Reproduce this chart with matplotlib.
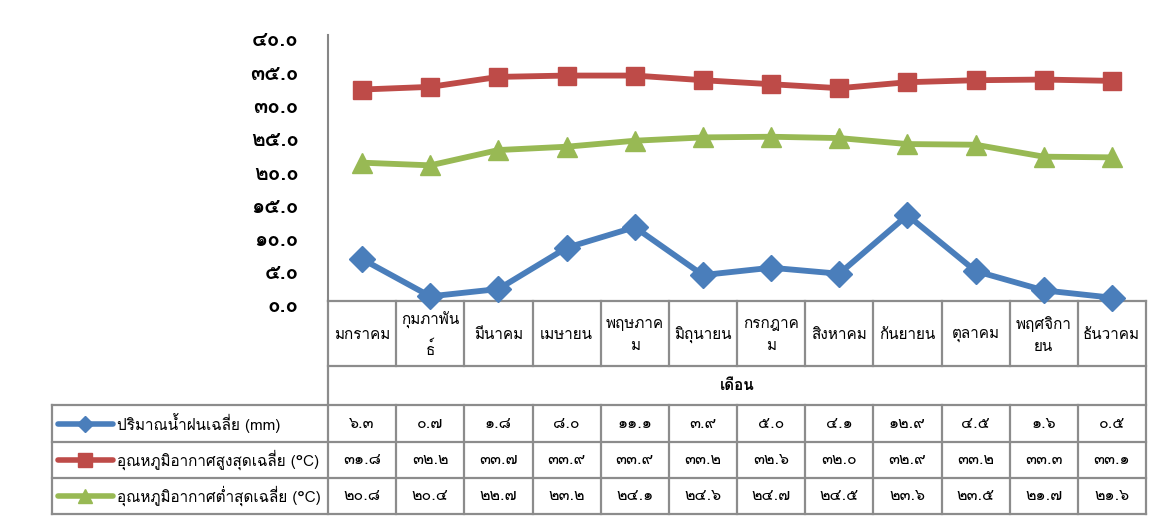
import matplotlib
matplotlib.use("Agg")
import matplotlib.pyplot as plt
from matplotlib import font_manager
from matplotlib.transforms import blended_transform_factory, ScaledTranslation

# Data
months = ["มกราคม", "กุมภาพัน\nธ์", "มีนาคม", "เมษายน", "พฤษภาค\nม", "มิถุนายน",
          "กรกฎาค\nม", "สิงหาคม", "กันยายน", "ตุลาคม", "พฤศจิกา\nยน", "ธันวาคม"]
rain = [6.3, 0.7, 1.8, 8.0, 11.1, 3.9, 5.0, 4.1, 12.9, 4.5, 1.6, 0.5]
tmax = [31.8, 32.2, 33.7, 33.9, 33.9, 33.2, 32.6, 32.0, 32.9, 33.2, 33.3, 33.1]
tmin = [20.8, 20.4, 22.7, 23.2, 24.1, 24.6, 24.7, 24.5, 23.6, 23.5, 21.7, 21.6]
series_names = ["ปริมาณน้ำฝนเฉลี่ย (mm)",
                "อุณหภูมิอากาศสูงสุดเฉลี่ย (°C)",
                "อุณหภูมิอากาศต่ำสุดเฉลี่ย (°C)"]
axis_title = "เดือน"
yticks = [0, 5, 10, 15, 20, 25, 30, 35, 40]


# find a font that has Thai glyphs
def find_thai_fonts():
    found = []
    try:
        from fontTools.ttLib import TTFont
    except Exception:
        return found
    for f in font_manager.fontManager.ttflist:
        if f.name in found:
            continue
        try:
            tt = TTFont(f.fname, fontNumber=0, lazy=True)
            cmap = tt.getBestCmap()
            if cmap and 0x0E01 in cmap and 0x0E51 in cmap:
                found.append(f.name)
        except Exception:
            pass
    return found


thai = find_thai_fonts()
plt.rcParams['font.family'] = thai[:2] + ['DejaVu Sans']

THAI_DIGITS = str.maketrans("0123456789", "๐๑๒๓๔๕๖๗๘๙")


def th(v):
    return f"{v:.1f}".translate(THAI_DIGITS)


W, H = 1167, 525
fig = plt.figure(figsize=(W / 100, H / 100), dpi=100)


def fx(px):
    return px / W


def fy(py):
    return 1 - py / H


TOP, BOT = 35, 301
ax = fig.add_axes([fx(328), fy(BOT), fx(1146) - fx(328), fy(TOP) - fy(BOT)])

x = list(range(len(months)))
colors = ["#4A7EBB", "#BE4B48", "#98B954"]
markers = ["D", "s", "^"]
msizes = [13, 13.5, 14.5]
for vals, c, m, ms in zip([rain, tmax, tmin], colors, markers, msizes):
    ax.plot(x, vals, color=c, lw=4.2, marker=m, markersize=ms, clip_on=False, zorder=3)

ax.set_xlim(-0.5, len(months) - 0.5)
ax.set_ylim(0, 40)
ax.set_yticks(yticks)
ax.set_yticklabels([th(v) for v in yticks], fontsize=15, fontweight='bold')
ax.tick_params(axis='y', length=0, pad=21)
# nudge the tick labels down a little, like the original
shift = ScaledTranslation(0, -4 / 100, fig.dpi_scale_trans)
for lab in ax.get_yticklabels():
    lab.set_transform(lab.get_transform() + shift)
ax.set_xticks([])
for s in ['top', 'right', 'bottom']:
    ax.spines[s].set_visible(False)
ax.spines['left'].set_color('#868686')
ax.spines['left'].set_linewidth(1.5)

# data table below the plot
gray = '#8c8c8c'
lw = 1.6
tr = blended_transform_factory(ax.transData, fig.transFigure)
xl = -0.5
xr = len(months) - 0.5
colw = 818 / 12
xleg = xl - (328 - 52) / colw

rows_y = [BOT, 366, 405, 442, 478, 514]


def hline(x0, x1, py):
    ax.plot([x0, x1], [fy(py), fy(py)], color=gray, lw=lw, transform=tr, clip_on=False)


def vline(xx, py0, py1):
    ax.plot([xx, xx], [fy(py0), fy(py1)], color=gray, lw=lw, transform=tr, clip_on=False)


hline(xl, xr, BOT)
hline(xl, xr, 366)
for py in rows_y[2:]:
    hline(xleg, xr, py)
vline(xl, BOT, 514)
vline(xr, BOT, 514)
vline(xleg, 405, 514)
for k in range(1, len(months)):
    vline(k - 0.5, BOT, 366)
    vline(k - 0.5, 405, 514)

for i, name in enumerate(months):
    ax.text(i, fy(335), name, transform=tr, ha='center', va='center',
            fontsize=11, linespacing=1.8)

ax.text((xl + xr) / 2, fy(386), axis_title, transform=tr, ha='center', va='center',
        fontsize=11, fontweight='bold')

for r, (vals, c, m, ms, name) in enumerate(zip([rain, tmax, tmin], colors, markers,
                                               [8, 10, 10], series_names)):
    yc = fy((rows_y[2 + r] + rows_y[3 + r]) / 2)
    kx0 = xleg + (58 - 52) / colw
    kx1 = xleg + (113 - 52) / colw
    ax.plot([kx0, kx1], [yc, yc], color=c, lw=4, solid_capstyle='round',
            transform=tr, clip_on=False)
    ax.plot([(kx0 + kx1) / 2], [yc], color=c, marker=m, markersize=ms,
            transform=tr, clip_on=False)
    ax.text(xleg + (117 - 52) / colw, yc, name, transform=tr,
            ha='left', va='center', fontsize=11)
    for i, v in enumerate(vals):
        ax.text(i, yc, th(v), transform=tr, ha='center', va='center', fontsize=11.5)

fig.savefig("out.png", dpi=100)
